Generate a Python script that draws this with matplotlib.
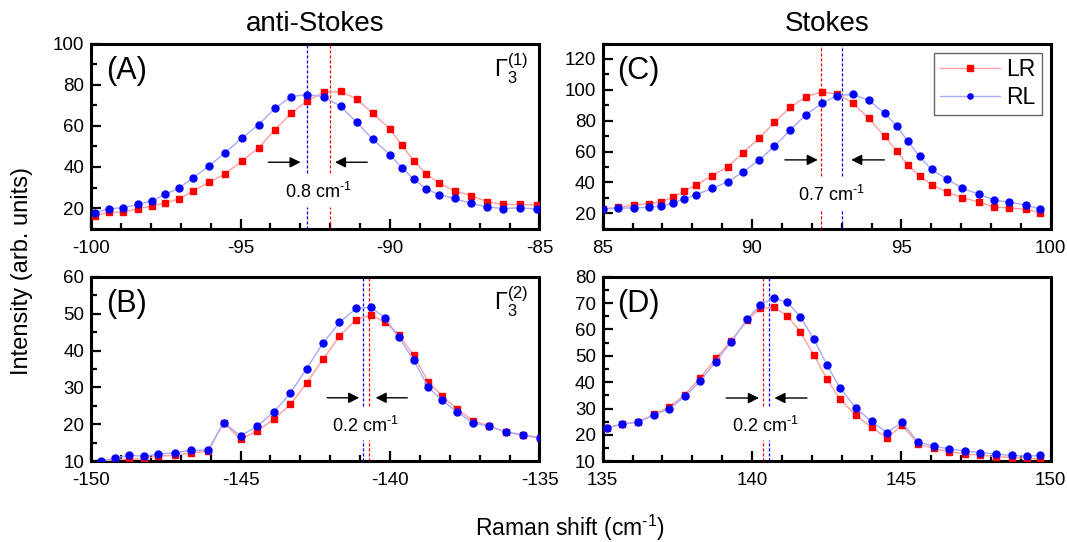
import matplotlib
matplotlib.use('Agg')
import matplotlib.pyplot as plt
from matplotlib.ticker import MultipleLocator

plt.rcParams['font.family'] = ['Liberation Sans', 'DejaVu Sans']
plt.rcParams['mathtext.fontset'] = 'custom'
plt.rcParams['mathtext.rm'] = 'Liberation Sans'
plt.rcParams['mathtext.it'] = 'Liberation Sans:italic'
plt.rcParams['axes.unicode_minus'] = False

# ---------------- data ----------------
# (A) anti-Stokes, Gamma3(1)
shift_A = [-99.88, -99.39, -98.94, -98.44, -97.97, -97.51, -97.05, -96.58, -96.04, -95.52,
           -94.95, -94.39, -93.85, -93.30, -92.78, -92.22, -91.65, -91.12, -90.58, -90.00,
           -89.61, -89.20, -88.79, -88.37, -87.84, -87.29, -86.76, -86.21, -85.64, -85.07]
lr_A = [16.1, 18.2, 17.9, 19.7, 21.1, 22.6, 24.5, 28.4, 32.7, 36.6,
        42.9, 49.4, 58.1, 66.1, 72.1, 76.3, 76.8, 73.1, 66.1, 58.5,
        50.6, 42.9, 36.6, 32.3, 28.4, 26.1, 23.2, 21.8, 21.8, 21.5]
rl_A = [17.7, 19.7, 20.2, 21.8, 23.5, 26.8, 29.8, 34.8, 40.6, 46.9,
        54.0, 60.6, 68.5, 74.2, 75.2, 74.2, 69.4, 61.9, 53.5, 46.0,
        39.7, 34.0, 29.4, 26.6, 24.7, 22.3, 20.6, 19.8, 20.2, 19.5]

# (B) anti-Stokes, Gamma3(2)
shift_B = [-149.67, -149.20, -148.73, -148.24, -147.76, -147.20, -146.65, -146.09, -145.56, -145.00,
           -144.44, -143.88, -143.33, -142.79, -142.24, -141.69, -141.13, -140.64, -140.17, -139.71,
           -139.21, -138.73, -138.26, -137.76, -137.22, -136.69, -136.11, -135.55, -134.99]
lr_B = [9.8, 10.5, 10.6, 10.7, 11.4, 11.6, 12.3, 12.7, 20.4, 16.0,
        18.2, 21.4, 25.4, 31.2, 37.6, 43.9, 48.4, 49.6, 47.7, 44.3,
        38.7, 31.6, 27.7, 24.2, 21.0, 19.6, 17.9, 17.1, 16.2]
rl_B = [10.0, 10.9, 11.6, 11.4, 11.9, 12.3, 13.0, 13.0, 20.5, 16.9,
        19.5, 23.4, 28.5, 35.1, 42.0, 47.6, 51.4, 51.7, 48.9, 43.6,
        37.5, 30.2, 26.5, 23.4, 20.4, 19.5, 17.9, 17.2, 16.4]

# (C) Stokes, Gamma3(1)
shift_C = [85.00, 85.52, 86.05, 86.55, 86.95, 87.36, 87.73, 88.12, 88.66, 89.18,
           89.69, 90.23, 90.75, 91.27, 91.79, 92.33, 92.86, 93.38, 93.90, 94.44,
           94.85, 95.21, 95.61, 96.01, 96.52, 97.04, 97.59, 98.09, 98.62, 99.17, 99.63]
lr_C = [22.8, 23.9, 25.4, 26.2, 27.5, 30.5, 34.4, 38.3, 44.3, 50.1,
        59.1, 68.6, 78.9, 88.6, 95.3, 98.7, 97.2, 91.4, 81.5, 69.9,
        60.2, 51.2, 44.3, 38.5, 33.8, 30.1, 27.3, 24.1, 23.4, 22.6, 20.4]
rl_C = [22.6, 23.4, 23.4, 23.9, 24.7, 26.7, 29.5, 32.0, 36.1, 40.4,
        46.7, 54.4, 63.4, 73.8, 83.7, 91.2, 96.3, 97.0, 93.3, 84.7,
        76.6, 66.7, 56.8, 48.4, 42.2, 36.3, 32.3, 28.8, 27.1, 25.4, 22.8]

# (D) Stokes, Gamma3(2)
shift_D = [135.14, 135.65, 136.19, 136.71, 137.23, 137.75, 138.26, 138.78, 139.31, 139.83,
           140.28, 140.72, 141.18, 141.62, 142.06, 142.50, 142.95, 143.47, 144.00, 144.52,
           145.02, 145.56, 146.08, 146.60, 147.12, 147.64, 148.17, 148.70, 149.20, 149.65]
lr_D = [22.5, 24.1, 24.9, 27.8, 30.6, 35.3, 41.5, 49.0, 55.8, 63.5,
        68.0, 68.4, 65.2, 59.0, 50.4, 41.3, 33.5, 27.5, 22.9, 18.9,
        23.7, 16.6, 14.9, 13.7, 12.9, 12.3, 11.8, 11.4, 11.1, 10.9]
rl_D = [22.7, 24.1, 24.9, 27.6, 29.9, 34.6, 40.4, 47.7, 55.4, 63.8,
        69.4, 71.9, 70.3, 64.8, 56.5, 46.7, 37.7, 30.3, 25.1, 20.9,
        24.8, 17.3, 15.8, 14.7, 13.9, 13.3, 12.7, 12.2, 12.0, 12.2]

# fitted peak centres (LR, RL) and the splitting quoted on each panel
peak_lr = {'A': -92.00, 'B': -140.71, 'C': 92.30, 'D': 140.36}
peak_rl = {'A': -92.78, 'B': -140.91, 'C': 93.01, 'D': 140.56}
splitting = {'A': '0.8', 'B': '0.2', 'C': '0.7', 'D': '0.2'}

# cm^-1 with a plain hyphen, as in the rest of the labels
CM1 = r'cm$^{\mathregular{\text{-}1}}$'

# ---------------- layout ----------------
panels = {
    'A': dict(rect=[0.0853, 0.578, 0.4203, 0.3417], x=shift_A, lr=lr_A, rl=rl_A,
              xlim=(-100, -85), ylim=(10, 100), ymaj=20, ymin=10,
              gap=(20.5, 37.0), arrow_y=42.3, arrows=((-94.07, -92.99), (-90.76, -91.84)),
              text_y=27.7, mode=r'$\mathregular{\Gamma_3^{(1)}}$'),
    'B': dict(rect=[0.0853, 0.1489, 0.4203, 0.3406], x=shift_B, lr=lr_B, rl=rl_B,
              xlim=(-150, -135), ylim=(10, 60), ymaj=10, ymin=5,
              gap=(15.7, 25.0), arrow_y=27.2, arrows=((-142.1, -141.03), (-139.42, -140.48)),
              text_y=19.5, mode=r'$\mathregular{\Gamma_3^{(2)}}$'),
    'C': dict(rect=[0.5649, 0.578, 0.4198, 0.3417], x=shift_C, lr=lr_C, rl=rl_C,
              xlim=(85, 100), ylim=(10, 130), ymaj=20, ymin=10,
              gap=(22.8, 44.3), arrow_y=54.6, arrows=((91.1, 92.2), (94.43, 93.32)),
              text_y=32.0, mode=None),
    'D': dict(rect=[0.5649, 0.1489, 0.4198, 0.3406], x=shift_D, lr=lr_D, rl=rl_D,
              xlim=(135, 150), ylim=(10, 80), ymaj=10, ymin=5,
              gap=(18.0, 31.0), arrow_y=34.0, arrows=((139.13, 140.23), (141.84, 140.75)),
              text_y=23.3, mode=None),
}

fig = plt.figure(figsize=(10.67, 5.42), dpi=100)

for name, p in panels.items():
    ax = fig.add_axes(p['rect'])
    ax.plot(p['x'], p['lr'], '-', color='#ff9f9f', lw=1.0, marker='s', ms=5,
            mfc='#ff0000', mec='#ff0000', label='LR', zorder=3)
    ax.plot(p['x'], p['rl'], '-', color='#a9a9ff', lw=1.0, marker='o', ms=5,
            mfc='#0000ff', mec='#0000ff', label='RL', zorder=4)

    y0, y1 = p['ylim']
    g0, g1 = p['gap']
    for xc, col in ((peak_rl[name], '#0000ff'), (peak_lr[name], '#ff0000')):
        ax.plot([xc, xc], [g1, y1], ls=(0, (2.5, 1.5)), color=col, lw=0.9, zorder=2)
        ax.plot([xc, xc], [y0, g0], ls=(0, (2.5, 1.5)), color=col, lw=0.9, zorder=2)

    for tail, head in p['arrows']:
        ax.annotate('', xy=(head, p['arrow_y']), xytext=(tail, p['arrow_y']),
                    arrowprops=dict(arrowstyle='-|>', color='black', lw=1.0,
                                    mutation_scale=16, shrinkA=0, shrinkB=0))

    xmid = (peak_lr[name] + peak_rl[name]) / 2
    ax.text(xmid, p['text_y'], splitting[name] + ' ' + CM1,
            ha='center', va='center', fontsize=13)

    ax.text(0.033, 0.935, '(%s)' % name, transform=ax.transAxes, fontsize=22,
            ha='left', va='top')
    if p['mode']:
        ax.text(0.975, 0.955, p['mode'], transform=ax.transAxes, fontsize=17,
                ha='right', va='top')

    ax.set_xlim(*p['xlim'])
    ax.set_ylim(y0, y1)
    ax.xaxis.set_major_locator(MultipleLocator(5))
    ax.xaxis.set_minor_locator(MultipleLocator(1))
    ax.yaxis.set_major_locator(MultipleLocator(p['ymaj']))
    ax.yaxis.set_minor_locator(MultipleLocator(p['ymin']))
    ax.tick_params(which='both', direction='in', top=False, right=False,
                   labelsize=13.5, width=1.6)
    ax.tick_params(which='major', length=7)
    ax.tick_params(which='minor', length=4)
    ax.tick_params(axis='x', which='major', pad=8)
    ax.tick_params(axis='y', which='major', pad=5)
    for s in ax.spines.values():
        s.set_linewidth(2.2)

    if name == 'A':
        ax.set_title('anti-Stokes', fontsize=20, pad=9)
    if name == 'C':
        ax.set_title('Stokes', fontsize=20, pad=9)
        leg = ax.legend(loc='upper right', fontsize=16.5, handlelength=2.6,
                        markerscale=0.75, fancybox=False, framealpha=1,
                        edgecolor='#666666', borderpad=0.25, labelspacing=0.2,
                        handletextpad=0.3, borderaxespad=0.4)
        leg.get_frame().set_linewidth(1.0)

fig.text(0.021, 0.50, 'Intensity (arb. units)', rotation=90, ha='center', va='center',
         fontsize=17)
fig.text(0.534, 0.026, 'Raman shift (' + CM1 + ')', ha='center', va='center',
         fontsize=16.5)

fig.savefig('out.png', dpi=100)
